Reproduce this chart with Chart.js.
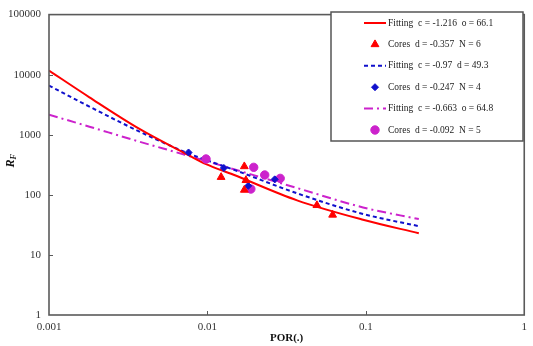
<!DOCTYPE html>
<html>
<head>
<meta charset="utf-8">
<script src="https://cdn.jsdelivr.net/npm/chart.js@4.4.1/dist/chart.umd.min.js"></script>
<style>
  html, body { margin: 0; padding: 0; background: #fff; }
  #wrap { width: 533px; height: 346px; }
</style>
</head>
<body>
<div id="wrap"><canvas id="c" width="533" height="346"></canvas></div>
<script>
// axis ticks
const xTicks = [0.001, 0.01, 0.1, 1];
const yTicks = [1, 10, 100, 1000, 10000, 100000];

// fitted curves
const fitRedX = [0.001, 0.0018, 0.0037, 0.0076, 0.0098, 0.0145, 0.0368, 0.096, 0.216];
const fitRedY = [11700, 4200, 1265, 458, 325, 218, 81, 38.5, 22.9];
const fitBlueX = [0.001, 0.0018, 0.0037, 0.0076, 0.0156, 0.0368, 0.096, 0.216];
const fitBlueY = [6580, 2940, 1140, 489, 247, 106, 48.1, 30.1];
const fitMagX = [0.001, 0.0018, 0.0037, 0.0072, 0.0368, 0.096, 0.216];
const fitMagY = [2160, 1362, 771, 465, 130, 61.7, 39.5];

// core samples
const coreRedX = [0.0122, 0.0171, 0.0171, 0.0175, 0.0491, 0.0617];
const coreRedY = [197, 297, 120.5, 175, 67, 46.4];
const coreBlueX = [0.0076, 0.0127, 0.0181, 0.0266];
const coreBlueY = [507, 280, 141, 181];
const coreMagX = [0.0098, 0.0196, 0.0230, 0.0288, 0.0188];
const coreMagY = [395, 287, 214, 188, 125];

const legendLabels = [
  'Fitting  c = -1.216  o = 66.1',
  'Cores  d = -0.357  N = 6',
  'Fitting  c = -0.97  d = 49.3',
  'Cores  d = -0.247  N = 4',
  'Fitting  c = -0.663  o = 64.8',
  'Cores  d = -0.092  N = 5'
];

const SERIF = '"Liberation Serif", "Times New Roman", serif';
const RED = '#ff0000', BLUE = '#1010cc', MAG = '#cc22cc';

const pts = (xs, ys) => xs.map((x, i) => ({ x, y: ys[i] }));

function fitLine(label, xs, ys, color, dash) {
  return {
    label, data: pts(xs, ys), showLine: true,
    borderColor: color, backgroundColor: color, borderWidth: 2,
    borderDash: dash, pointRadius: 0, pointHoverRadius: 0,
    cubicInterpolationMode: 'monotone', order: 2
  };
}
function cores(label, xs, ys, color, style, r) {
  return {
    label, data: pts(xs, ys), showLine: false,
    pointStyle: style, pointRadius: r, pointBorderWidth: 1,
    borderColor: color, backgroundColor: color, order: 1
  };
}

const framePlugin = {
  id: 'frame',
  afterDraw(chart) {
    const { ctx, chartArea: a, scales: { x, y } } = chart;
    ctx.save();
    // plot frame
    ctx.strokeStyle = '#5a5a5a';
    ctx.lineWidth = 1.6;
    ctx.strokeRect(a.left, a.top, a.width, a.height);
    // inward tick marks
    ctx.lineWidth = 1;
    xTicks.slice(1, -1).forEach(v => {
      const px = Math.round(x.getPixelForValue(v)) + 0.5;
      ctx.beginPath(); ctx.moveTo(px, a.bottom); ctx.lineTo(px, a.bottom - 4); ctx.stroke();
    });
    yTicks.slice(1, -1).forEach(v => {
      const py = Math.round(y.getPixelForValue(v)) + 0.5;
      ctx.beginPath(); ctx.moveTo(a.left, py); ctx.lineTo(a.left + 4, py); ctx.stroke();
    });

    // axis titles
    ctx.fillStyle = '#111';
    ctx.textAlign = 'center';
    ctx.textBaseline = 'middle';
    ctx.font = 'bold 11px ' + SERIF;
    ctx.fillText('POR(.)', (a.left + a.right) / 2, 338);

    ctx.save();
    ctx.translate(11, 161);
    ctx.rotate(-Math.PI / 2);
    ctx.textAlign = 'left';
    ctx.font = 'bold italic 12px ' + SERIF;
    const rw = ctx.measureText('R').width;
    ctx.fillText('R', -(rw + 5) / 2, 0);
    ctx.font = 'bold italic 8px ' + SERIF;
    ctx.fillText('F', -(rw + 5) / 2 + rw, 3);
    ctx.restore();

    // legend box
    const bx = 331, by = 12, bw = 192, bh = 129;
    ctx.fillStyle = '#fff';
    ctx.fillRect(bx, by, bw, bh);
    ctx.strokeStyle = '#555';
    ctx.lineWidth = 1.5;
    ctx.strokeRect(bx, by, bw, bh);

    chart.data.datasets.forEach((ds, i) => {
      const ry = 23 + i * 21.4;
      ctx.strokeStyle = ds.borderColor;
      ctx.fillStyle = ds.backgroundColor;
      if (ds.showLine) {
        ctx.lineWidth = ds.borderWidth;
        ctx.setLineDash(ds.borderDash || []);
        ctx.beginPath(); ctx.moveTo(364, ry); ctx.lineTo(386, ry); ctx.stroke();
        ctx.setLineDash([]);
      } else {
        ctx.lineWidth = 1;
        Chart.helpers.drawPoint(ctx, { pointStyle: ds.pointStyle, radius: ds.pointRadius, rotation: 0, borderWidth: 1 }, 375, ry);
      }
      ctx.fillStyle = '#222';
      ctx.textAlign = 'left';
      ctx.textBaseline = 'middle';
      ctx.font = '9.5px ' + SERIF;
      ctx.fillText(legendLabels[i], 388, ry);
    });
    ctx.restore();
  }
};

new Chart(document.getElementById('c'), {
  type: 'scatter',
  data: {
    datasets: [
      fitLine(legendLabels[0], fitRedX, fitRedY, RED, []),
      cores(legendLabels[1], coreRedX, coreRedY, RED, 'triangle', 4.5),
      fitLine(legendLabels[2], fitBlueX, fitBlueY, BLUE, [4, 3]),
      cores(legendLabels[3], coreBlueX, coreBlueY, BLUE, 'rectRot', 3.5),
      fitLine(legendLabels[4], fitMagX, fitMagY, MAG, [9, 4, 2, 4]),
      cores(legendLabels[5], coreMagX, coreMagY, MAG, 'circle', 4.2)
    ]
  },
  options: {
    responsive: false,
    animation: false,
    layout: { padding: { top: 5, right: 3, left: 0, bottom: 0 } },
    plugins: { legend: { display: false }, tooltip: { enabled: false } },
    scales: {
      x: {
        type: 'logarithmic', min: 0.001, max: 1,
        afterBuildTicks: s => { s.ticks = xTicks.map(v => ({ value: v })); },
        afterFit: s => { s.height = 31; },
        grid: { display: false, drawTicks: false, tickLength: 0 }, border: { display: false },
        ticks: {
          autoSkip: false, maxRotation: 0, padding: 6, color: '#333',
          font: { family: SERIF, size: 11 },
          callback: v => String(v)
        }
      },
      y: {
        type: 'logarithmic', min: 1, max: 100000,
        afterBuildTicks: s => { s.ticks = yTicks.map(v => ({ value: v })); },
        afterFit: s => { s.width = 49; },
        grid: { display: false, drawTicks: false, tickLength: 0 }, border: { display: false },
        ticks: {
          autoSkip: false, padding: 8, color: '#333',
          font: { family: SERIF, size: 11 },
          callback: v => String(v)
        }
      }
    }
  },
  plugins: [framePlugin]
});
</script>
</body>
</html>
